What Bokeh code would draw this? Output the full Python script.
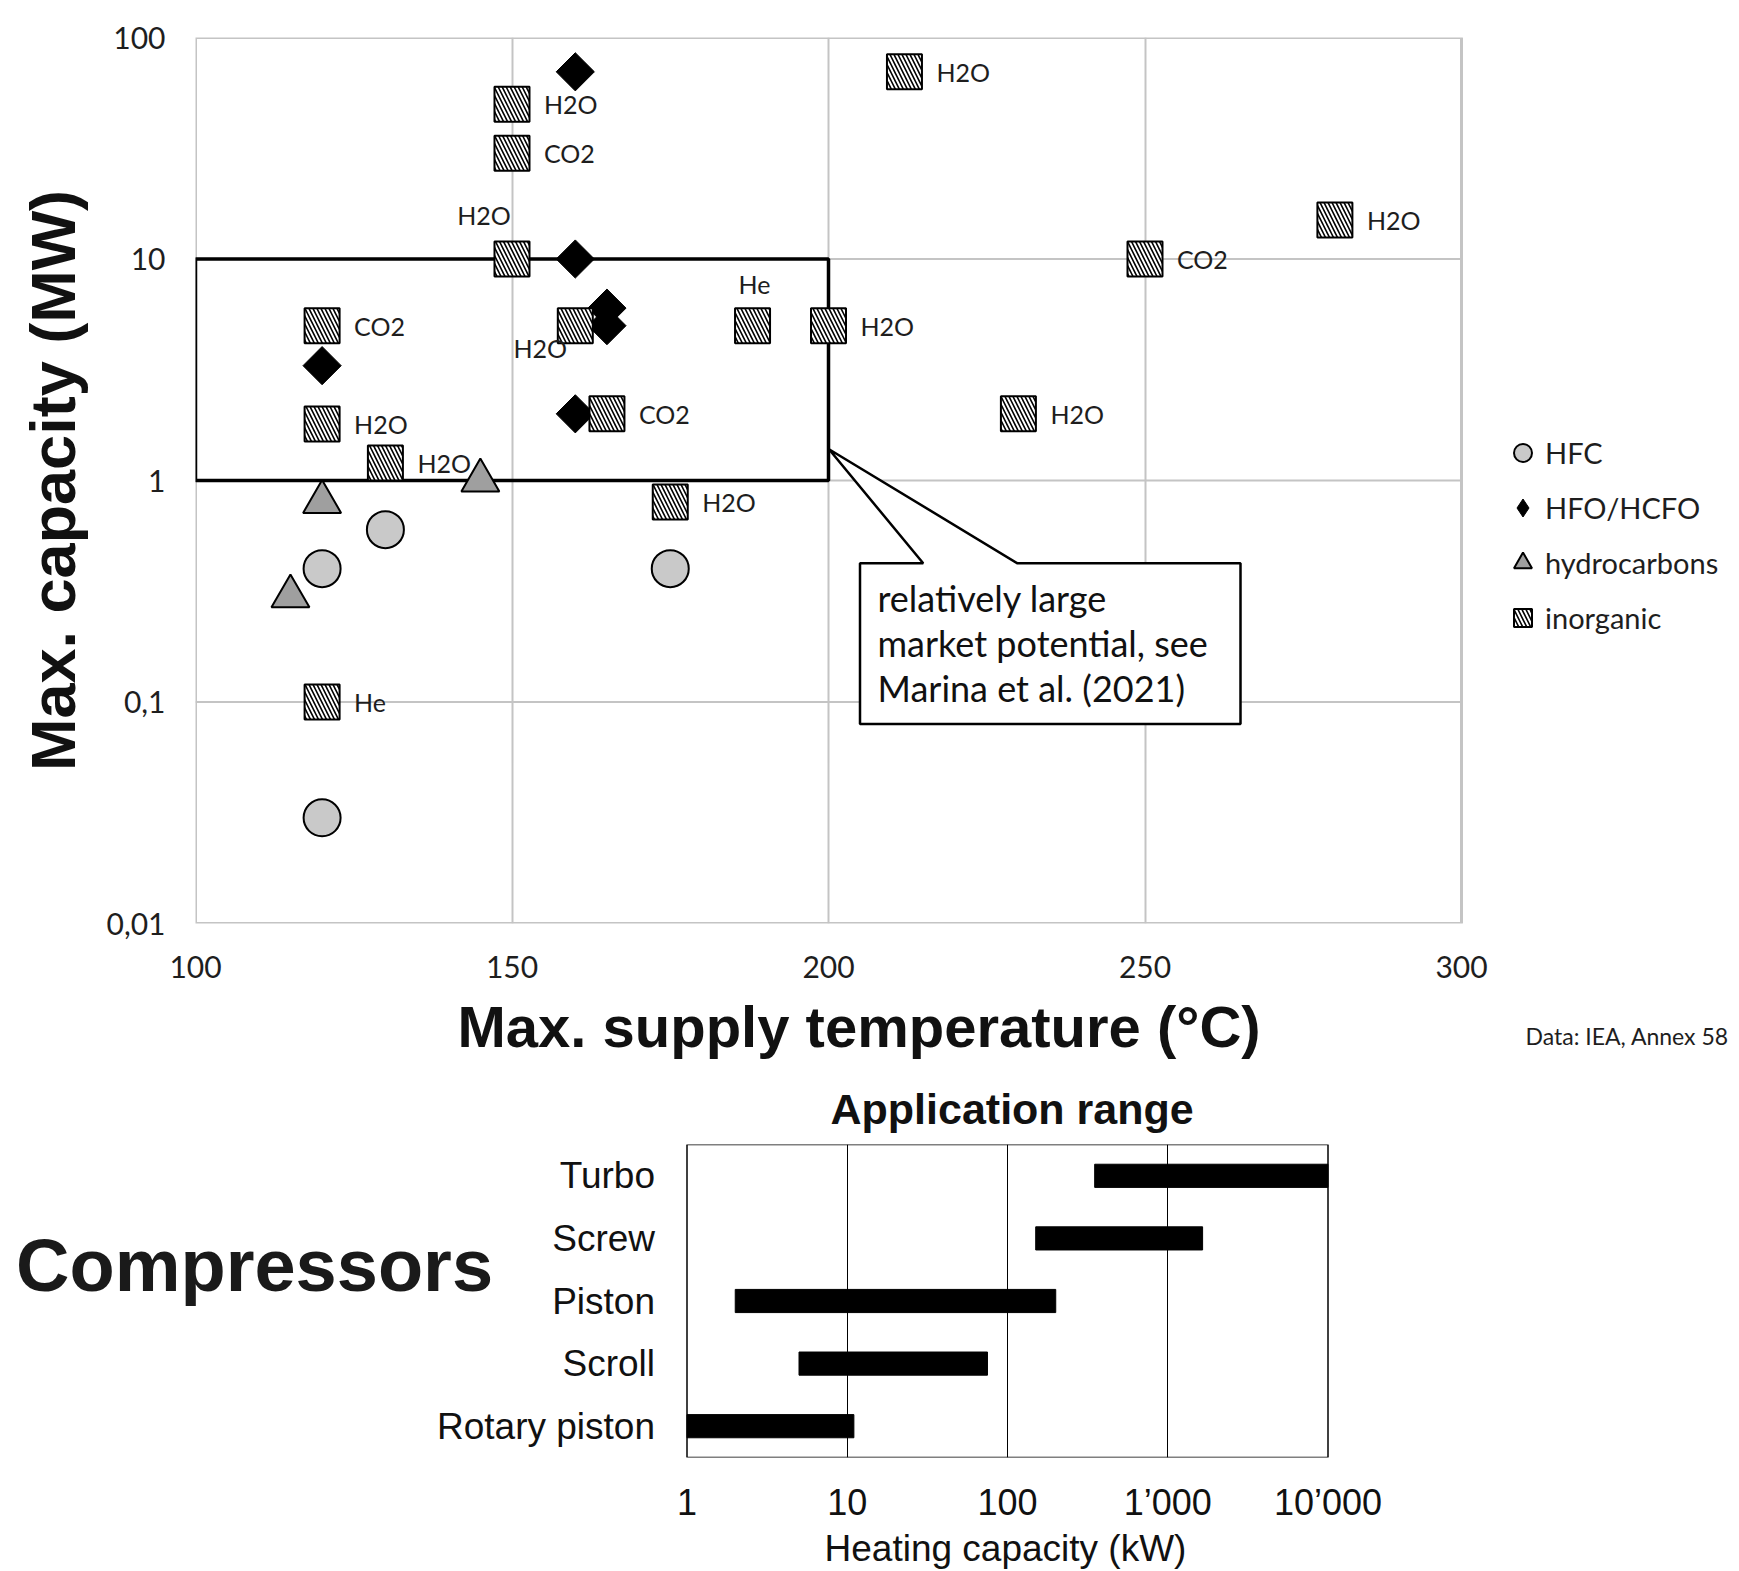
import math
from bokeh.plotting import figure
from bokeh.models import (Range1d, FactorRange, FixedTicker, Label, Legend, LegendItem,
                          ColumnDataSource, Title)
from bokeh.embed import file_html
from bokeh.resources import INLINE
from bokeh.core.properties import value

# ---------------- data: upper chart ----------------
hfc_temp = [130, 120, 175, 120]
hfc_cap = [0.6, 0.4, 0.4, 0.03]

hfo_temp = [160, 160, 165, 165, 120, 160]
hfo_cap = [70, 10, 6, 5, 3.3, 2]

hc_temp = [120, 145, 115]
hc_cap = [0.8, 1.0, 0.3]

inorg_temp = [150, 150, 150, 212, 280, 250, 120, 160, 188, 200, 165, 230, 120, 130, 175, 120]
inorg_cap = [50, 30, 10, 70, 15, 10, 5, 5, 5, 5, 2, 2, 1.8, 1.2, 0.8, 0.1]
inorg_fluid = ["H2O", "CO2", "H2O", "H2O", "H2O", "CO2", "CO2", "H2O", "He", "H2O",
               "CO2", "H2O", "H2O", "H2O", "H2O", "He"]

x_ticks = [100, 150, 200, 250, 300]
y_ticks = [0.01, 0.1, 1, 10, 100]
y_tick_labels = ["0,01", "0,1", "1", "10", "100"]

highlight_temp = [100, 200]
highlight_cap = [1, 10]
callout_lines = ["relatively large", "market potential, see", "Marina et al. (2021)"]

# ---------------- data: lower chart ----------------
compressors = ["Turbo", "Screw", "Piston", "Scroll", "Rotary piston"]
range_min_kw = [350, 150, 2, 5, 1]
range_max_kw = [10000, 1650, 200, 75, 11]
kw_ticks = [1, 10, 100, 1000, 10000]
kw_tick_labels = ["1", "10", "100", "1\u2019000", "10\u2019000"]

# ---------------- layout / style ----------------
W = 1739
H1, H2 = 1070, 501
CAL = "Lato"
ARIAL = "Liberation Sans"
GRID = "#c4c4c4"
TXT = "#1e1e1e"

# upper plot box in page pixels (the frame itself extends to the right edge)
F1_L, F1_R, F1_T, F1_B = 195, 1461, 37, 924


def t_at(px):
    return x_ticks[0] + (px - F1_L) * (x_ticks[-1] - x_ticks[0]) / (F1_R - F1_L)


def cap_at(py):
    return 10 ** (2 - (py - F1_T) * 4.0 / (F1_B - F1_T))


# fluid-name placement (screen offsets)
special = {2: (-28, -44, "center"), 7: (-35, 22, "center"), 8: (2, -42, "center")}

p1 = figure(width=W, height=H1, x_range=Range1d(x_ticks[0], t_at(W)),
            y_range=Range1d(y_ticks[0], y_ticks[-1]),
            y_axis_type="log", output_backend="svg", toolbar_location=None,
            min_border_left=F1_L, min_border_right=0, min_border_top=F1_T,
            min_border_bottom=H1 - F1_B)
p1.outline_line_color = None

for ax in (p1.xaxis, p1.yaxis):
    ax.axis_line_color = None
    ax.major_tick_line_color = None
    ax.minor_tick_line_color = None
    ax.major_label_text_font = CAL
    ax.major_label_text_font_size = "30px"
    ax.major_label_text_color = TXT

p1.xaxis.ticker = FixedTicker(ticks=x_ticks)
p1.xaxis.major_label_standoff = 26

p1.yaxis.ticker = FixedTicker(ticks=y_ticks)
p1.yaxis.major_label_overrides = dict(zip(y_ticks, y_tick_labels))
p1.yaxis.major_label_standoff = 24
p1.yaxis.axis_label = "Max. capacity (MW)"
p1.yaxis.axis_label_text_font = ARIAL
p1.yaxis.axis_label_text_font_style = "bold"
p1.yaxis.axis_label_text_font_size = "63px"
p1.yaxis.axis_label_text_color = "#111111"
p1.yaxis.axis_label_standoff = 15

p1.add_layout(Title(text="Max. supply temperature (\u00b0C)", align="left", offset=262,
                    text_font=ARIAL, text_font_style="bold", text_font_size="58px",
                    text_color="#111111", standoff=23), "below")

# grid and plot box
p1.xgrid.ticker = FixedTicker(ticks=x_ticks[1:-1])
p1.xgrid.grid_line_color = GRID
p1.xgrid.grid_line_width = 2
p1.ygrid.grid_line_color = None
grid_caps = y_ticks[1:-1]
p1.segment(x0=[x_ticks[0]] * len(grid_caps), x1=[x_ticks[-1]] * len(grid_caps),
           y0=grid_caps, y1=grid_caps, line_color=GRID, line_width=2)
p1.quad(left=x_ticks[0], right=x_ticks[-1], bottom=y_ticks[0], top=y_ticks[-1],
        fill_color=None, line_color=GRID, line_width=3)

# highlighted region
p1.quad(left=highlight_temp[0], right=highlight_temp[1], bottom=highlight_cap[0],
        top=highlight_cap[1], fill_color=None, line_color="black", line_width=3.5)

# callout box (annotation geometry)
c_tip = (t_at(828.5), cap_at(449.2))
c_box = (t_at(859.5), t_at(1240), cap_at(724.2), cap_at(563.4))
c_base = (t_at(922.7), t_at(1017))
p1.patch(x=[c_tip[0], c_base[0], c_box[0], c_box[0], c_box[1], c_box[1], c_base[1], c_tip[0]],
         y=[c_tip[1], c_box[3], c_box[3], c_box[2], c_box[2], c_box[3], c_box[3], c_tip[1]],
         fill_color="white", line_color="black", line_width=2.5)
p1.text(x=[t_at(877)] * 3, y=[cap_at(597.8), cap_at(643.3), cap_at(688.7)], text=callout_lines,
        text_font=value(CAL), text_font_size="36px", text_baseline="middle", text_color="#111111")

# markers
r_hfc = p1.scatter(hfc_temp, hfc_cap, marker="circle", size=37, fill_color="#c9c9c9",
                   line_color="black", line_width=2)
# diamond key for the legend (hidden beneath the rotated squares)
r_hfo_key = p1.scatter(hfo_temp, hfo_cap, marker="diamond", size=27, fill_color="black",
                       line_color="black")
r_hfo = p1.scatter(hfo_temp, hfo_cap, marker="square", angle=math.pi / 4, size=27,
                   fill_color="black", line_color="black")
r_hc = p1.scatter(hc_temp, hc_cap, marker="triangle", size=38, fill_color="#9f9f9f",
                  line_color="black", line_width=2)
r_in = p1.scatter(inorg_temp, inorg_cap, marker="square", size=35, fill_color="white",
                  line_color="black", line_width=2, hatch_pattern="left_diagonal_line",
                  hatch_color="black", hatch_scale=8, hatch_weight=1.6)

left_src = dict(x=[], y=[], t=[], dx=[], dy=[])
ctr_src = dict(x=[], y=[], t=[], dx=[], dy=[])
for i, (t, c, f) in enumerate(zip(inorg_temp, inorg_cap, inorg_fluid)):
    dx, dy, al = special.get(i, (32, 0, "left"))
    d = left_src if al == "left" else ctr_src
    d["x"].append(t); d["y"].append(c); d["t"].append(f); d["dx"].append(dx); d["dy"].append(dy)
for src, al in ((left_src, "left"), (ctr_src, "center")):
    p1.text(x="x", y="y", text="t", x_offset="dx", y_offset="dy", source=ColumnDataSource(src),
            text_font=value(CAL), text_font_size="25px", text_baseline="middle", text_align=al,
            text_color=TXT)

legend = Legend(items=[LegendItem(label="HFC", renderers=[r_hfc]),
                       LegendItem(label="HFO/HCFO", renderers=[r_hfo_key]),
                       LegendItem(label="hydrocarbons", renderers=[r_hc]),
                       LegendItem(label="inorganic", renderers=[r_in])],
                location=(1500 - F1_L, F1_B - 641), border_line_color=None,
                background_fill_alpha=0,
                label_text_font=CAL, label_text_font_size="29px", label_text_color=TXT,
                glyph_width=45, glyph_height=45, label_height=45, spacing=10, padding=0,
                margin=0, label_standoff=0)
p1.add_layout(legend)

p1.add_layout(Label(x=1525 - F1_L, y=F1_T - 1035, x_units="screen", y_units="screen",
                    text="Data: IEA, Annex 58", text_font=CAL, text_font_size="23px",
                    text_baseline="middle", text_color=TXT), "above")

# ---------------- lower chart ----------------
BOX_L, BOX_R = 686.5, 1327.5          # page px of the 1 kW / 10'000 kW edges
F2_T, F2_B = 74, 387                  # frame top / bottom inside the lower canvas
dec = (BOX_R - BOX_L) / 4.0
lo = math.log10(kw_ticks[0]) - BOX_L / dec
hi = math.log10(kw_ticks[-1]) + (W - BOX_R) / dec


def kw_at(px):
    return 10 ** (lo + px / dec)


p2 = figure(width=W, height=H2, x_axis_type="log", x_range=Range1d(10 ** lo, 10 ** hi),
            y_range=FactorRange(factors=list(reversed(compressors))),
            output_backend="svg", toolbar_location=None,
            min_border_left=0, min_border_right=0, min_border_top=F2_T,
            min_border_bottom=H2 - F2_B)
p2.outline_line_color = None
p2.yaxis.visible = False
p2.title.text = "Application range"
p2.title.align = "left"
p2.title.offset = 830
p2.title.text_font = ARIAL
p2.title.text_font_size = "43px"
p2.title.text_font_style = "bold"
p2.title.text_color = "#111111"
p2.title.standoff = 24

ax = p2.xaxis
ax.axis_line_color = None
ax.major_tick_line_color = None
ax.minor_tick_line_color = None
ax.major_label_text_font = ARIAL
ax.major_label_text_color = "#111111"
ax.major_label_text_font_size = "36px"
ax.major_label_text_line_height = 1.0
ax.ticker = FixedTicker(ticks=kw_ticks)
ax.major_label_overrides = dict(zip(kw_ticks, kw_tick_labels))
ax.major_label_standoff = 18

p2.add_layout(Title(text="Heating capacity (kW)", align="left", offset=824, text_font=ARIAL,
                    text_font_size="37px", text_font_style="normal", text_color="#111111",
                    standoff=1), "below")

p2.xgrid.ticker = FixedTicker(ticks=kw_ticks[1:-1])
p2.xgrid.grid_line_color = "black"
p2.xgrid.grid_line_width = 1
p2.ygrid.grid_line_color = None

# box of the application-range chart
p2.quad(left=kw_ticks[0], right=kw_ticks[-1], bottom=0, top=len(compressors),
        fill_color=None, line_color="black", line_width=1.5)
p2.hbar(y=compressors, left=range_min_kw, right=range_max_kw, height=0.37, color="black")
p2.text(x=[kw_ticks[0]] * len(compressors), y=compressors, text=compressors, x_offset=-32,
        text_align="right", text_baseline="middle", text_font=value(ARIAL),
        text_font_size="37px", text_color="#111111")

y_comp = len(compressors) * (F2_B - (1265 - H1)) / (F2_B - F2_T)
p2.add_layout(Label(x=kw_at(15.5), y=y_comp, text="Compressors", text_font=ARIAL,
                    text_font_size="74px", text_font_style="bold", text_baseline="middle",
                    text_color="#1a1a1a"))

open("out.html", "w").write(file_html([p1, p2], INLINE))
